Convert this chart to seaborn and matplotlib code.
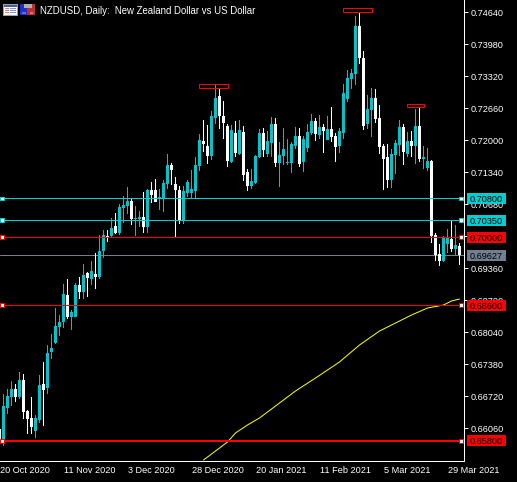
import matplotlib
matplotlib.use('Agg')

import pandas as pd
import matplotlib.pyplot as plt
from matplotlib.patches import Rectangle
import seaborn as sns

# daily bars, oldest first (index -1 is the one cut by the left edge)
open_ = [.66045, .65798, .66479, .66706, .66871, .66706, .67056, .66417, .66273, .66004,
         .66231, .66973, .66891, .67634, .67819, .68150, .68253, .68810, .68356, .68356,
         .69016, .68872, .69263, .69139, .69242, .69181, .69717, .70026, .70026, .70232,
         .70088, .70604, .70645, .70748, .70377, .70377, .70418, .70212, .70975, .70975,
         .70790, .70810, .71099, .71491, .71099, .70975, .70336, .70913, .70913, .70955,
         .71470, .71986, .71883, .71676, .72460, .72914, .72501, .72295, .71553, .72151,
         .71718, .72172, .71347, .71058, .71119, .71656, .72151, .71718, .71945, .72336,
         .71532, .71676, .71532, .71532, .71883, .72089, .71553, .71841, .72151, .72398,
         .72110, .72275, .72006, .72233, .72089, .71883, .72151, .72852, .73265, .73368,
         .74358, .73698, .72336, .72625, .72873, .72460, .71883, .71656, .71181, .71697,
         .71903, .72275, .71718, .71986, .71883, .72295, .71615, .71429, .71573, .70047,
         .69655, .69510, .69862, .69965, .69758, .69820]
high = [.66087, .66767, .66871, .67035, .66973, .67222, .67180, .66438, .66706, .66335,
        .67160, .67428, .67778, .68005, .68541, .68397, .69036, .69139, .68500, .69057,
        .69181, .69448, .69284, .69510, .69676, .70047, .70150, .70150, .70397, .70501,
        .70686, .70851, .71037, .70810, .70645, .70542, .70934, .70996, .71140, .71202,
        .70996, .71181, .71718, .71532, .71244, .71058, .71058, .71181, .71388, .71656,
        .72130, .72419, .72316, .72605, .73141, .73058, .72811, .72336, .72316, .72398,
        .72419, .72295, .71408, .71408, .71697, .72233, .72254, .72192, .72481, .72460,
        .71965, .72254, .72027, .71965, .72275, .72254, .72089, .72336, .72543, .72460,
        .72522, .72336, .72501, .72687, .72151, .72254, .73161, .73450, .73471, .74564,
        .74647, .73842, .72935, .73079, .73058, .72728, .71924, .71924, .71821, .72006,
        .72419, .72336, .72172, .72192, .72646, .72687, .71883, .71841, .71594, .70088,
        .69862, .70026, .70171, .70336, .70253, .69882]
low = [.65736, .65695, .66355, .66520, .66603, .66664, .66252, .65942, .65942, .65860,
       .66169, .66107, .66767, .67489, .67798, .67964, .68129, .68314, .68088, .68356,
       .68727, .68727, .68769, .69016, .68933, .69139, .69572, .69903, .70006, .70067,
       .70047, .70294, .70480, .70253, .70026, .70212, .70088, .70088, .70707, .70728,
       .70563, .70521, .70996, .71078, .70006, .70274, .70274, .70831, .70810, .70810,
       .71367, .71759, .71512, .71594, .72336, .72233, .72027, .71450, .71532, .71656,
       .71697, .71161, .70955, .70996, .71099, .71635, .71656, .71656, .71656, .71450,
       .71037, .71491, .71491, .71326, .71821, .71450, .71347, .71759, .72110, .71986,
       .72027, .71738, .72006, .71965, .71553, .71738, .72027, .72790, .73058, .73141,
       .73574, .72213, .72233, .72068, .72357, .71718, .70975, .71016, .71016, .71305,
       .71676, .71491, .71656, .71656, .71512, .71553, .71408, .71367, .69882, .69510,
       .69408, .69490, .69676, .69697, .69635, .69428]
close = [.65778, .66520, .66726, .66871, .66706, .67056, .66397, .66252, .66087, .66273,
         .66953, .66850, .67613, .67716, .68170, .68253, .68830, .68356, .68459, .69016,
         .68872, .69222, .69160, .69304, .69181, .69717, .70047, .70006, .70191, .70088,
         .70625, .70666, .70748, .70377, .70397, .70418, .70212, .70975, .70872, .70728,
         .70831, .71119, .71491, .71388, .70975, .70356, .70955, .71140, .70996, .71491,
         .72006, .71924, .71676, .72501, .72873, .72501, .72357, .71573, .72213, .71738,
         .72213, .71285, .71058, .71161, .71676, .72151, .71800, .71986, .72336, .71532,
         .71697, .71821, .71553, .71924, .72089, .71512, .72027, .72172, .72398, .72130,
         .72275, .72192, .72233, .72068, .71862, .72192, .72976, .73285, .73388, .74358,
         .73698, .72295, .72646, .72873, .72440, .71862, .71615, .71181, .71718, .71945,
         .72275, .71759, .71986, .71883, .72295, .71615, .71656, .71573, .70026, .69635,
         .69510, .70006, .69985, .69758, .69841, .69627]

# moving average, read at a few bars
ma_bar = [50, 53, 56, 58, 61, 64, 68, 73, 78, 84, 89, 94, 98, 102, 106, 110, 112, 114]
ma_val = [.65406, .65592, .65778, .65964, .66129, .66273, .66520, .66830, .67097, .67428,
          .67778, .68067, .68232, .68397, .68541, .68603, .68686, .68727]

# horizontal lines: level, colour, width in px
levels = [0.7080, 0.7035, 0.7000, 0.6860, 0.6580]
level_labels = ['0.70800', '0.70350', '0.70000', '0.68600', '0.65800']
level_colors = ['#00CED1', '#00CED1', '#FF0000', '#FF0000', '#FF0000']
level_widths = [1, 1, 1, 1, 2]
last_price = 0.69627

# red boxes over the three highs: first bar, last bar, low, high
box_start = [48.9, 84.9, 100.9]
box_end = [56.1, 92.1, 105.1]
box_low = [.73079, .74647, .72687]
box_high = [.73161, .74729, .72749]

price_ticks = [.7464, .7398, .7332, .7266, .7200, .7134, .7068, .7002, .6936, .6870, .6804, .6738, .6672, .6606]
# 0.70020 sits fully behind the 0.70000 tag
price_labels = ['0.74640', '0.73980', '0.73320', '0.72660', '0.72000', '0.71340', '0.70680', '',
                '0.69360', '0.68700', '0.68040', '0.67380', '0.66720', '0.66060']
# first date belongs to the bar cut by the left edge, so its tick sits on the edge
date_bars = [-0.875, 15, 31, 47, 63, 79, 95, 111]
date_labels = ['20 Oct 2020', '11 Nov 2020', '3 Dec 2020', '28 Dec 2020', '20 Jan 2021',
               '11 Feb 2021', '5 Mar 2021', '29 Mar 2021']
title = 'NZDUSD, Daily:  New Zealand Dollar vs US Dollar'

teal = '#00C4CC'
px = 0.72  # one pixel in points at dpi 100
font_px = 9.2

sns.set_theme(style='dark', rc={'figure.facecolor': 'black', 'axes.facecolor': 'black',
                                'text.color': 'white', 'xtick.color': 'white', 'ytick.color': 'white'})
plt.rcParams['font.family'] = ['Liberation Sans', 'DejaVu Sans']

df = pd.DataFrame({'bar': range(-1, len(close) - 1), 'open': open_, 'high': high, 'low': low, 'close': close})
df['top'] = df[['open', 'close']].max(axis=1)
df['bottom'] = df[['open', 'close']].min(axis=1)
df['color'] = ['white' if c < o else teal for o, c in zip(df['open'], df['close'])]

fig = plt.figure(figsize=(5.17, 4.82), dpi=100)
ax = fig.add_axes([0, 21 / 482, 464 / 517, 461 / 482])

# snap off keeps the 1px wick centred on the 3px body
ax.vlines(df['bar'], df['low'], df['high'], colors=df['color'], lw=px, snap=False, zorder=3)
ax.bar(df['bar'], df['top'] - df['bottom'], bottom=df['bottom'], width=0.75, color=df['color'],
       linewidth=0, zorder=3)

ma = pd.DataFrame({'bar': ma_bar, 'ma': ma_val})
sns.lineplot(data=ma, x='bar', y='ma', color='yellow', lw=px, ax=ax, zorder=4)
ax.set_xlabel('')
ax.set_ylabel('')

ax.axhline(last_price, color='#708090', lw=px, zorder=2)
handle_h = 0.00082
for lev, col, w in zip(levels, level_colors, level_widths):
    ax.axhline(lev, color=col, lw=w * px, zorder=5)
    for hx in [-0.76, 113.99]:
        ax.add_patch(Rectangle((hx, lev - handle_h / 2), 1, handle_h, fc='white', ec=col, lw=px,
                               clip_on=False, zorder=6))

for s, e, lo, hi in zip(box_start, box_end, box_low, box_high):
    ax.add_patch(Rectangle((s, lo), e - s, hi - lo, fill=False, ec='#FF0000', lw=px, zorder=6))

ax.set_xticks(date_bars)
ax.set_xticklabels(date_labels, ha='left')
ax.set_yticks(price_ticks)
ax.set_yticklabels(price_labels)
ax.yaxis.tick_right()
ax.tick_params(axis='x', length=4 * px, width=px, pad=1, labelsize=font_px * px, colors='white')
ax.tick_params(axis='y', length=4 * px, width=px, pad=2, labelsize=font_px * px, colors='white')
ax.xaxis.get_major_ticks()[0].tick1line.set_visible(False)
ax.grid(False)
for side in ['top', 'left']:
    ax.spines[side].set_visible(False)
for side in ['right', 'bottom']:
    ax.spines[side].set_color('white')
    ax.spines[side].set_linewidth(px)

# limits last, set_xticks widens them otherwise
ax.set_xlim(-0.875, 115.125)
ax.set_ylim(0.65386, 0.74894)

# price tags on the right
trans = ax.get_yaxis_transform()
tags = list(zip(levels, level_labels, level_colors)) + [(last_price, '0.69627', '#708090')]
for lev, lab, col in tags:
    ax.add_patch(Rectangle((467 / 464, lev - 0.00113), 39 / 464, 0.00227, transform=trans, color=col,
                           lw=0, clip_on=False, zorder=7))
    ax.text(486.5 / 464, lev, lab, transform=trans, color='black', fontsize=font_px * px,
            ha='center', va='center_baseline', zorder=8)

# overlay in pixels for the two window icons and the title
top = fig.add_axes([0, 0, 1, 1], facecolor='none')
top.set_xlim(0, 517)
top.set_ylim(482, 0)
top.axis('off')
top.text(40.5, 10, title, color='white', fontsize=9.6 * px, ha='left', va='center_baseline')
icon1 = [(3, 4, 15, 12, '#A0A0A0'), (4, 5, 13, 10, 'white'), (4, 5, 13, 2, '#4060A0'),
         (5, 8, 4, 1, '#E08070'), (10, 8, 6, 1, '#8090E0'), (5, 10, 4, 1, '#E08070'),
         (10, 10, 6, 1, '#8090E0'), (5, 12, 4, 1, '#E08070'), (10, 12, 6, 1, '#8090E0')]
icon2 = [(20, 4, 8, 11, '#2030D0'), (27, 4, 8, 11, '#C03030'), (24, 4, 8, 4, '#B0B0B0'),
         (22, 12, 4, 2, '#6070E0'), (30, 12, 3, 2, '#E07070')]
for x, y, w, h, col in icon1 + icon2:
    top.add_patch(Rectangle((x, y), w, h, color=col, lw=0))

fig.savefig('out.png', dpi=100, facecolor='black')
